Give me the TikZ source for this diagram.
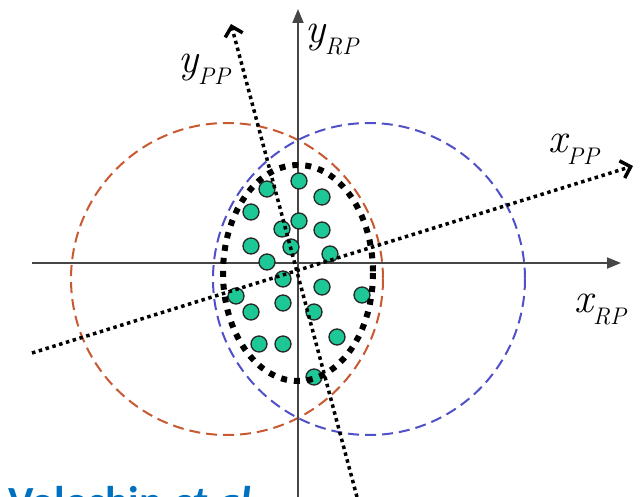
\documentclass[tikz,border=0pt]{standalone}
\usepackage{fontspec}
\newfontfamily\carl{Carlito}
\usetikzlibrary{arrows.meta}
\definecolor{redc}{RGB}{200,90,50}
\definecolor{bluec}{RGB}{80,80,200}
\definecolor{greenc}{RGB}{30,200,150}
\definecolor{axisc}{RGB}{70,70,70}
\definecolor{citec}{RGB}{0,112,192}
\newcommand\axlbl[2]{{\fontsize{42}{42}\selectfont\itshape #1}\raisebox{-12pt}{\fontsize{24}{24}\selectfont\itshape #2}}
\tikzset{
  dashcircle/.style={line width=2pt,dash pattern=on 11pt off 6pt},
  rpaxis/.style={draw=axisc,line width=1.8pt,-{Triangle[length=14pt,width=11pt]}},
  ppaxis/.style={draw=black,line width=3.5pt,dash pattern=on 3.5pt off 3.6pt,
    -{Straight Barb[length=9pt,width=18pt,line width=3.5pt]}},
  ellipsedots/.style={draw=black,line width=6pt,dash pattern=on 6pt off 7pt},
  gdot/.style={circle,draw=black!85,line width=1.3pt,fill=greenc,minimum size=16pt,inner sep=0pt},
  lbl/.style={inner sep=0pt,anchor=base west},
}
\begin{document}
\begin{tikzpicture}[x=1pt,y=-1pt]
\useasboundingbox (0,0) rectangle (641,497);
\clip (0,0) rectangle (641,497);
% dashed circles
\draw[dashcircle,redc] (227,279) circle[radius=156];
\draw[dashcircle,bluec] (369,279) circle[radius=156];
% reference plane axes
\coordinate (xl) at (32,263);
\coordinate (xr) at (621,263);
\coordinate (yb) at (298,497);
\coordinate (yt) at (298,9);
\draw[rpaxis] (xl) -- (xr);
\draw[rpaxis] (yb) -- (yt);
% particles
\foreach \n/\px/\py in {1/299/181,2/267/189,3/322/197,4/251/212,5/299/221,6/282/229,
  7/322/230,8/251/246,9/291/247,10/330/254,11/267/262,12/283/279,13/322/287,14/236/296,
  15/362/295,16/251/312,17/283/303,18/314/312,19/337/337,20/259/344,21/283/344,22/314/377}
  \node[gdot] (d\n) at (\px,\py) {};
% dotted ellipse
\node[draw=none,inner sep=0pt] (ctr) at (298,273) {};
\draw[ellipsedots] (ctr) ellipse[x radius=75,y radius=108];
% participant plane axes
\coordinate (pxl) at (32,353);
\coordinate (pxr) at (633,166);
\coordinate (pyb) at (357,497);
\coordinate (pyt) at (231,24);
\draw[ppaxis] (pxl) -- (pxr);
\draw[ppaxis] (pyb) -- (pyt);
% labels
\node[lbl] (lxrp) at (574,313) {\axlbl{x}{RP}};
\node[lbl] (lxpp) at (548,153) {\axlbl{x}{PP}};
\node[lbl] (lyrp) at (305,43) {\axlbl{y}{RP}};
\node[lbl] (lypp) at (178,73) {\axlbl{y}{PP}};
% citation (cut by the lower edge)
\node[inner sep=0pt,anchor=base west,text=citec] (cite) at (8,517)
  {\fontsize{43}{43}\selectfont\carl\bfseries Voloshin \textit{et al}};
\end{tikzpicture}
\end{document}
